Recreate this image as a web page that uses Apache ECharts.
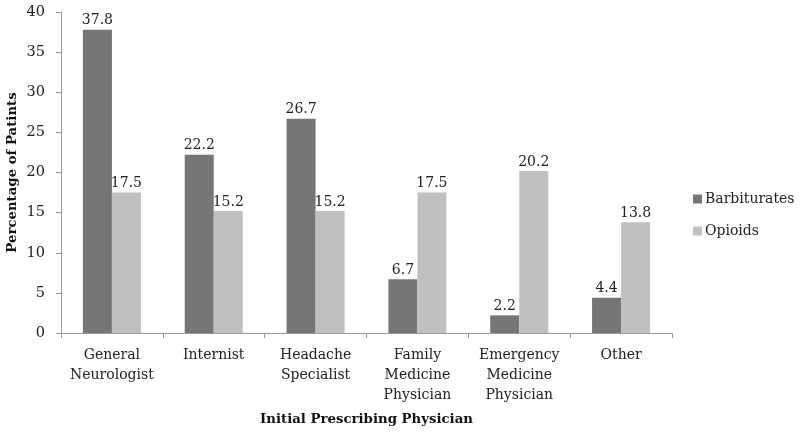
<!DOCTYPE html>
<html><head><meta charset="utf-8">
<script src="https://cdn.jsdelivr.net/npm/echarts@6/dist/echarts.min.js"></script>
<style>html,body{margin:0;padding:0;background:#fff}#c{width:800px;height:435px}</style>
</head><body><div id="c"></div>
<script>
var categories = ['General\nNeurologist','Internist','Headache\nSpecialist','Family\nMedicine\nPhysician','Emergency\nMedicine\nPhysician','Other'];
var barbiturates = [37.8, 22.2, 26.7, 6.7, 2.2, 4.4];
var opioids = [17.5, 15.2, 15.2, 17.5, 20.2, 13.8];
var yTicks = [0,5,10,15,20,25,30,35,40];
var FONT = '"DejaVu Serif", serif';
var chart = echarts.init(document.getElementById('c'), null, {renderer:'canvas'});
var lbl = {show:true, position:'top', distance:2, color:'#222', fontFamily:FONT, fontSize:14, formatter:function(p){return p.value.toFixed(1);}};
chart.setOption({
  animation:false,
  grid:{left:61, right:128, top:12, bottom:102, outerBoundsMode:'none', containLabel:false},
  legend:{orient:'vertical', left:688, top:187, itemWidth:9, itemHeight:9, itemGap:18, padding:5,
    textStyle:{fontFamily:FONT, fontSize:14, color:'#222', padding:[0,0,0,-2]}, icon:'rect', data:['Barbiturates','Opioids']},
  xAxis:{type:'category', data:categories, name:'Initial Prescribing Physician', nameLocation:'middle', nameGap:80,
    nameMoveOverlap:false,
    nameTextStyle:{fontFamily:FONT, fontSize:13.3, fontWeight:'bold', color:'#111'},
    axisLine:{lineStyle:{color:'#999'}}, axisTick:{show:true, length:5, lineStyle:{color:'#999'}},
    axisLabel:{fontFamily:FONT, fontSize:14, color:'#222', lineHeight:20, margin:12, interval:0}},
  yAxis:{type:'value', min:0, max:40, interval:5, name:'Percentage of Patints', nameLocation:'middle', nameGap:42,
    nameMoveOverlap:false,
    nameTextStyle:{fontFamily:FONT, fontSize:13.3, fontWeight:'bold', color:'#111'},
    axisLine:{show:true, lineStyle:{color:'#999'}}, axisTick:{show:true, length:5, lineStyle:{color:'#999'}},
    splitLine:{show:false},
    axisLabel:{fontFamily:FONT, fontSize:14.5, color:'#222', margin:16, formatter:function(v){return yTicks.indexOf(v)>=0?String(v):'';}}},
  series:[
    {name:'Barbiturates', type:'bar', data:barbiturates, barGap:'0%', barCategoryGap:'43%', itemStyle:{color:'#767676'}, label:lbl},
    {name:'Opioids', type:'bar', data:opioids, itemStyle:{color:'#c0c0c0'}, label:lbl}
  ]
});
</script></body></html>
